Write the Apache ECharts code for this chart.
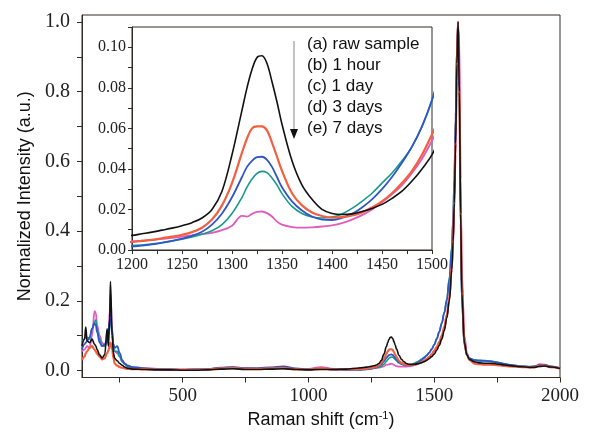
<!DOCTYPE html>
<html>
<head>
<meta charset="utf-8">
<script src="https://cdn.jsdelivr.net/npm/echarts@6/dist/echarts.min.js"></script>
<style>
  html, body { margin: 0; padding: 0; background: #fff; }
  #chart { width: 590px; height: 439px; }
</style>
</head>
<body>
<div id="chart"></div>
<script>
// Raman shift (cm-1), shared by all spectra
var shift = [
  100, 110, 115, 120, 130, 140, 150, 155, 160, 170, 180, 190, 200, 205, 210, 213, 220, 225, 230, 240, 250, 260, 270, 280, 300,
  350, 400, 450, 500, 550, 600, 650, 700, 750, 800, 850, 900, 950, 1000, 1050, 1100, 1150,
  1200, 1210, 1220, 1230, 1240, 1250, 1260, 1270, 1280, 1290, 1300, 1310, 1315, 1320, 1325, 1330, 1335, 1340, 1345, 1350,
  1360, 1370, 1380, 1390, 1400, 1410, 1420, 1430, 1440, 1450, 1460, 1470, 1480, 1490, 1500,
  1510, 1520, 1530, 1540, 1550, 1560, 1570, 1575, 1580, 1585, 1590, 1595, 1600, 1605, 1610, 1620, 1630, 1640,
  1660, 1680, 1700, 1720, 1740, 1760, 1780, 1800, 1850, 1880, 1900, 1920, 1940, 1960, 2000
]

// (a) raw sample
var rawSample = [
  0.07, 0.09, 0.125, 0.085, 0.08, 0.09, 0.075, 0.07, 0.06, 0.045, 0.036, 0.045, 0.12, 0.07, 0.15, 0.255, 0.10, 0.05, 0.035, 0.028, 0.02, 0.015, 0.01, 0.007, 0.004,
  0.003, 0.002, 0.002, 0.001, 0.001, 0.002, 0.004, 0.005, 0.003, 0.003, 0.004, 0.005, 0.003, 0.002, 0.003, 0.003, 0.004,
  0.0072, 0.008, 0.0088, 0.0098, 0.0108, 0.012, 0.0135, 0.0158, 0.020, 0.029, 0.047, 0.069, 0.080, 0.089, 0.095, 0.0958, 0.092, 0.083, 0.073, 0.062,
  0.044, 0.032, 0.025, 0.020, 0.018, 0.0175, 0.0178, 0.019, 0.0205, 0.0225, 0.0255, 0.029, 0.034, 0.040, 0.047,
  0.058, 0.072, 0.09, 0.115, 0.15, 0.20, 0.29, 0.37, 0.48, 0.65, 0.88, 1.0, 0.80, 0.45, 0.22, 0.08, 0.045, 0.032,
  0.025, 0.022, 0.021, 0.021, 0.020, 0.018, 0.016, 0.014, 0.011, 0.009, 0.009, 0.012, 0.013, 0.010, 0.006
]

// (b) 1 hour
var oneHour = [
  0.03, 0.04, 0.05, 0.055, 0.065, 0.07, 0.06, 0.055, 0.048, 0.04, 0.032, 0.035, 0.05, 0.058, 0.07, 0.08, 0.06, 0.035, 0.02, 0.014, 0.01, 0.008, 0.006, 0.005, 0.004,
  0.004, 0.003, 0.002, 0.002, 0.002, 0.003, 0.006, 0.007, 0.005, 0.005, 0.006, 0.007, 0.004, 0.003, 0.006, 0.003, 0.003,
  0.004, 0.0045, 0.005, 0.0058, 0.0066, 0.0075, 0.0088, 0.011, 0.015, 0.022, 0.033, 0.048, 0.055, 0.060, 0.061, 0.061, 0.059, 0.053, 0.046, 0.039,
  0.028, 0.022, 0.0185, 0.0168, 0.016, 0.0162, 0.017, 0.0185, 0.021, 0.024, 0.028, 0.033, 0.039, 0.047, 0.057,
  0.068, 0.082, 0.10, 0.125, 0.16, 0.21, 0.30, 0.38, 0.50, 0.67, 0.89, 1.0, 0.82, 0.48, 0.24, 0.085, 0.045, 0.03,
  0.02, 0.018, 0.017, 0.017, 0.016, 0.015, 0.013, 0.012, 0.01, 0.009, 0.01, 0.014, 0.014, 0.01, 0.006
]

// (c) 1 day
var oneDay = [
  0.06, 0.075, 0.08, 0.085, 0.095, 0.12, 0.135, 0.13, 0.11, 0.08, 0.07, 0.075, 0.09, 0.11, 0.14, 0.16, 0.11, 0.075, 0.065, 0.07, 0.05, 0.03, 0.02, 0.015, 0.01,
  0.006, 0.004, 0.003, 0.002, 0.003, 0.004, 0.008, 0.010, 0.007, 0.007, 0.009, 0.012, 0.006, 0.004, 0.005, 0.003, 0.002,
  0.0018, 0.0022, 0.0028, 0.0036, 0.0045, 0.0056, 0.007, 0.009, 0.0125, 0.018, 0.026, 0.036, 0.041, 0.044, 0.0458, 0.046, 0.0445, 0.041, 0.036, 0.031,
  0.024, 0.0195, 0.0165, 0.015, 0.0148, 0.0158, 0.0178, 0.021, 0.025, 0.030, 0.036, 0.043, 0.051, 0.061, 0.074,
  0.09, 0.11, 0.135, 0.165, 0.20, 0.26, 0.35, 0.43, 0.55, 0.72, 0.92, 1.0, 0.78, 0.42, 0.20, 0.075, 0.045, 0.035,
  0.03, 0.028, 0.028, 0.027, 0.025, 0.022, 0.019, 0.016, 0.012, 0.011, 0.012, 0.016, 0.016, 0.012, 0.007
]

// (d) 3 days
var threeDays = [
  0.08, 0.09, 0.095, 0.095, 0.09, 0.12, 0.14, 0.145, 0.12, 0.09, 0.07, 0.07, 0.085, 0.10, 0.13, 0.15, 0.10, 0.065, 0.055, 0.055, 0.04, 0.025, 0.018, 0.012, 0.008,
  0.005, 0.004, 0.003, 0.002, 0.003, 0.004, 0.008, 0.009, 0.006, 0.006, 0.008, 0.010, 0.005, 0.004, 0.004, 0.003, 0.002,
  0.0022, 0.0025, 0.003, 0.0036, 0.0044, 0.0053, 0.0064, 0.0078, 0.0095, 0.0125, 0.018, 0.026, 0.031, 0.035, 0.0378, 0.0388, 0.0382, 0.0355, 0.032, 0.0278,
  0.0215, 0.018, 0.0163, 0.0158, 0.0162, 0.0178, 0.0205, 0.024, 0.028, 0.033, 0.038, 0.044, 0.051, 0.061, 0.074,
  0.092, 0.112, 0.137, 0.167, 0.205, 0.265, 0.355, 0.44, 0.56, 0.73, 0.93, 1.0, 0.77, 0.41, 0.19, 0.072, 0.044, 0.035,
  0.03, 0.029, 0.028, 0.027, 0.025, 0.022, 0.019, 0.016, 0.012, 0.011, 0.012, 0.016, 0.016, 0.012, 0.007
]

// (e) 7 days
var sevenDays = [
  0.055, 0.06, 0.065, 0.07, 0.065, 0.10, 0.17, 0.165, 0.13, 0.10, 0.08, 0.07, 0.08, 0.10, 0.17, 0.22, 0.12, 0.07, 0.055, 0.05, 0.04, 0.025, 0.02, 0.014, 0.01,
  0.007, 0.005, 0.004, 0.003, 0.003, 0.004, 0.006, 0.007, 0.006, 0.005, 0.006, 0.006, 0.005, 0.005, 0.010, 0.005, 0.004,
  0.0042, 0.0046, 0.005, 0.0055, 0.006, 0.0066, 0.0072, 0.0078, 0.0085, 0.0098, 0.012, 0.0168, 0.0165, 0.0178, 0.0188, 0.019, 0.0182, 0.0165, 0.014, 0.0125,
  0.0113, 0.011, 0.0112, 0.0116, 0.0122, 0.0133, 0.015, 0.0172, 0.020, 0.0235, 0.0275, 0.032, 0.038, 0.045, 0.054,
  0.064, 0.078, 0.096, 0.12, 0.155, 0.205, 0.29, 0.36, 0.46, 0.62, 0.83, 0.98, 0.95, 0.55, 0.28, 0.10, 0.05, 0.032,
  0.022, 0.019, 0.018, 0.018, 0.017, 0.016, 0.014, 0.013, 0.011, 0.01, 0.012, 0.018, 0.017, 0.012, 0.007
]

var names = ['(a) raw sample', '(b) 1 hour', '(c) 1 day', '(d) 3 days', '(e) 7 days']
var colors = ['#111111', '#f2603f', '#2f56c8', '#17998c', '#e05cbc']
var widths = [1.6, 2.2, 1.8, 1.6, 1.8]
var spectra = [rawSample, oneHour, oneDay, threeDays, sevenDays]

var mainTicksY = [0, 0.1, 0.2, 0.3, 0.4, 0.5, 0.6, 0.7, 0.8, 0.9, 1.0]
var mainLabelsY = [0, 0.2, 0.4, 0.6, 0.8, 1.0]
var mainTicksX = [250, 500, 750, 1000, 1250, 1500, 1750, 2000]
var mainLabelsX = [500, 1000, 1500, 2000]
var insetTicksY = [0, 0.01, 0.02, 0.03, 0.04, 0.05, 0.06, 0.07, 0.08, 0.09, 0.10, 0.11]
var insetLabelsY = [0, 0.02, 0.04, 0.06, 0.08, 0.10]
var insetTicksX = [1200, 1225, 1250, 1275, 1300, 1325, 1350, 1375, 1400, 1425, 1450, 1475, 1500]
var insetLabelsX = [1200, 1250, 1300, 1350, 1400, 1450, 1500]

var frame = '#332a26'
var serif = 'Liberation Serif'
var sans = 'Liberation Sans'

function pairs (ys) {
  return shift.map(function (x, i) { return [x, ys[i]] })
}

var series = []
spectra.forEach(function (ys, i) {
  // main panel
  series.push({
    name: names[i], type: 'line', xAxisIndex: 0, yAxisIndex: 0,
    data: pairs(ys), showSymbol: false, smooth: 0.4, smoothMonotone: 'x',
    lineStyle: { color: colors[i], width: widths[i] }, z: 10 - i
  })
  // inset
  series.push({
    name: names[i], type: 'line', xAxisIndex: 1, yAxisIndex: 1,
    data: pairs(ys), showSymbol: false, smooth: 0.35, clip: true,
    lineStyle: { color: colors[i], width: widths[i] }, z: 10 - i
  })
})

var chart = echarts.init(document.getElementById('chart'))
chart.setOption({
  animation: false,
  backgroundColor: '#fff',
  grid: [
    { left: 82, right: 30, top: 15, bottom: 61.5, show: true, borderColor: frame, borderWidth: 1 },
    { left: 132, top: 27, width: 300, height: 223, show: true, borderColor: frame, borderWidth: 1, backgroundColor: '#fff' }
  ],
  xAxis: [
    {
      type: 'value', gridIndex: 0, min: 100, max: 2000,
      name: 'Raman shift (cm{sup|-1})', nameLocation: 'middle', nameGap: 30,
      nameTextStyle: {
        fontFamily: sans, fontSize: 18, color: '#111',
        rich: { sup: { fontFamily: sans, fontSize: 11, color: '#111', padding: [0, 0, 9, 0] } }
      },
      axisLine: { show: true, onZero: false, lineStyle: { color: frame } },
      axisTick: { show: true, inside: false, length: 5, customValues: mainTicksX, lineStyle: { color: frame } },
      axisLabel: {
        customValues: mainLabelsX, fontFamily: serif, fontSize: 19, color: '#222', margin: 9,
        formatter: function (v) { return String(v) }
      },
      splitLine: { show: false }
    },
    {
      type: 'value', gridIndex: 1, min: 1200, max: 1500,
      axisLine: { show: true, onZero: false, lineStyle: { color: frame } },
      axisTick: { show: true, length: 4, customValues: insetTicksX, lineStyle: { color: frame } },
      axisLabel: {
        customValues: insetLabelsX, fontFamily: serif, fontSize: 16, color: '#222', margin: 7,
        formatter: function (v) { return String(v) }
      },
      splitLine: { show: false }
    }
  ],
  yAxis: [
    {
      type: 'value', gridIndex: 0, min: -0.02, max: 1.02,
      name: 'Normalized Intensity (a.u.)', nameLocation: 'middle', nameGap: 48,
      nameTextStyle: { fontFamily: sans, fontSize: 18, color: '#111' },
      axisLine: { show: true, onZero: false, lineStyle: { color: frame } },
      axisTick: { show: true, length: 5, customValues: mainTicksY, lineStyle: { color: frame } },
      axisLabel: {
        customValues: mainLabelsY, fontFamily: serif, fontSize: 20, color: '#222', margin: 12,
        formatter: function (v) { return v.toFixed(1) }
      },
      splitLine: { show: false }
    },
    {
      type: 'value', gridIndex: 1, min: 0, max: 0.11,
      axisLine: { show: true, onZero: false, lineStyle: { color: frame } },
      axisTick: { show: true, length: 4, customValues: insetTicksY, lineStyle: { color: frame } },
      axisLabel: {
        customValues: insetLabelsY, fontFamily: serif, fontSize: 16, color: '#222', margin: 6,
        formatter: function (v) { return v.toFixed(2) }
      },
      splitLine: { show: false }
    }
  ],
  graphic: [
    // arrow beside the legend
    { type: 'line', shape: { x1: 294, y1: 41, x2: 294, y2: 130 }, style: { stroke: '#888', lineWidth: 1 }, z: 20 },
    { type: 'polygon', shape: { points: [[290, 129], [298, 129], [294, 139]] }, style: { fill: '#111' }, z: 20 }
  ].concat(names.map(function (n, i) {
    return {
      type: 'text', left: 307, top: 36 + i * 21, z: 20,
      style: { text: n, fontFamily: sans, fontSize: 17, fill: '#111' }
    }
  })),
  series: series
})
</script>
</body>
</html>
